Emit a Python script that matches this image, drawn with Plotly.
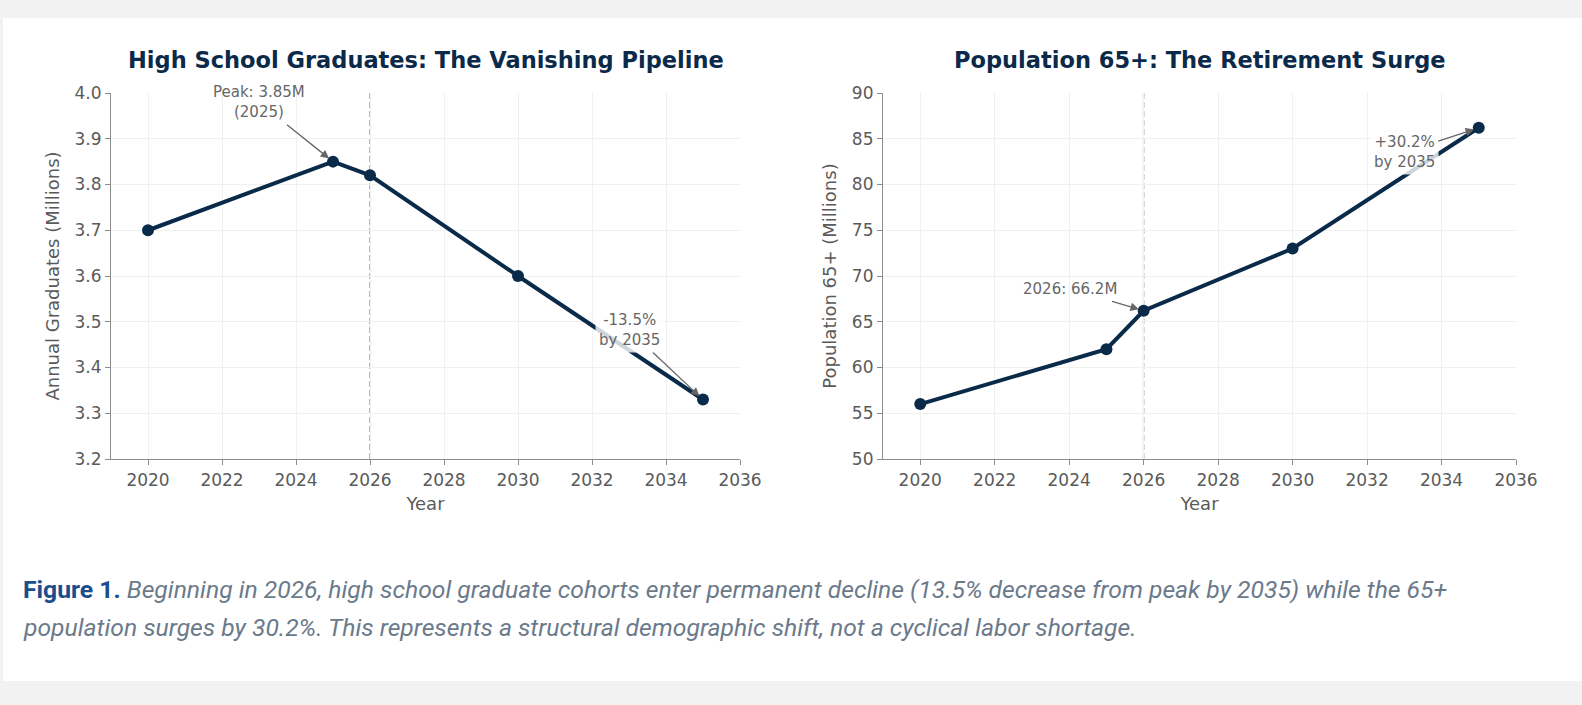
import plotly.graph_objects as go

W, H = 1582, 705

# ---- data ----
years = [2020, 2025, 2026, 2030, 2035]
grads = [3.70, 3.85, 3.82, 3.60, 3.33]
pop65 = [56.0, 62.0, 66.2, 73.0, 86.2]
x_ticks = [2020, 2022, 2024, 2026, 2028, 2030, 2032, 2034, 2036]
grad_ticks = [3.2, 3.3, 3.4, 3.5, 3.6, 3.7, 3.8, 3.9, 4.0]
pop_ticks = [50, 55, 60, 65, 70, 75, 80, 85, 90]
titles = ["High School Graduates: The Vanishing Pipeline",
          "Population 65+: The Retirement Surge"]
ylabels = ["Annual Graduates (Millions)", "Population 65+ (Millions)"]
caption1_bold = "Figure 1."
caption1 = ("Beginning in 2026, high school graduate cohorts enter permanent decline "
            "(13.5% decrease from peak by 2035) while the 65+")
caption2 = "population surges by 30.2%. This represents a structural demographic shift, not a cyclical labor shortage."

def px(x):
    return x / W

def py(y):
    return 1 - y / H

NAVY = "#0a2a4a"
SPINE = "#8c8c8c"
TICKC = "#5a5a5a"
GRID = "#f0f0f0"
ANN = "#666666"
FONT = "DejaVu Sans"

fig = go.Figure()

fig.add_trace(go.Scatter(x=years, y=grads, mode="lines+markers",
                         line=dict(color=NAVY, width=4),
                         marker=dict(color=NAVY, size=12),
                         xaxis="x", yaxis="y", showlegend=False))
fig.add_trace(go.Scatter(x=years, y=pop65, mode="lines+markers",
                         line=dict(color=NAVY, width=4),
                         marker=dict(color=NAVY, size=12),
                         xaxis="x2", yaxis="y2", showlegend=False))

ax_common = dict(showline=True, linecolor=SPINE, linewidth=1.2,
                 ticks="outside", ticklen=5, tickwidth=1.2, tickcolor=SPINE,
                 tickfont=dict(family=FONT, size=17, color=TICKC),
                 showgrid=True, gridcolor=GRID, gridwidth=1,
                 zeroline=False, mirror=False, automargin=False)

title_font = dict(family=FONT, size=18, color=TICKC)

fig.update_layout(
    width=W, height=H,
    margin=dict(l=0, r=0, t=0, b=0, pad=0, autoexpand=False),
    paper_bgcolor="#f2f2f2",
    plot_bgcolor="rgba(0,0,0,0)",
    xaxis=dict(domain=[px(111), px(740)], range=[2019, 2036],
               tickvals=x_ticks, anchor="y",
               title=dict(text="Year", standoff=8, font=title_font),
               **ax_common),
    yaxis=dict(domain=[py(459), py(93)], range=[3.2, 4.0],
               tickvals=grad_ticks, tickformat=".1f", anchor="x",
               title=dict(text=ylabels[0], standoff=10, font=title_font),
               **ax_common),
    xaxis2=dict(domain=[px(883), px(1516)], range=[2019, 2036],
                tickvals=x_ticks, anchor="y2",
                title=dict(text="Year", standoff=8, font=title_font),
                **ax_common),
    yaxis2=dict(domain=[py(459), py(93)], range=[50, 90],
                tickvals=pop_ticks, anchor="x2",
                title=dict(text=ylabels[1], standoff=10, font=title_font),
                **ax_common),
)

# white card
fig.add_shape(type="rect", xref="paper", yref="paper",
              x0=px(3), x1=1.0, y0=py(681), y1=py(18),
              fillcolor="white", line=dict(width=0), layer="below")

# vertical dashed 2026 lines
for xr, yr in (("x", "y domain"), ("x2", "y2 domain")):
    fig.add_shape(type="line", xref=xr, yref=yr, x0=2026, x1=2026, y0=0, y1=1,
                  line=dict(color="#a8a8a8", width=1.6, dash="6px,3px"), layer="below")

# subplot titles
for t, cx in zip(titles, [px(425.5), px(1199.5)]):
    fig.add_annotation(text=f"<b>{t}</b>", x=cx, y=py(60), xref="paper", yref="paper",
                       xanchor="center", yanchor="middle", showarrow=False,
                       font=dict(family=FONT, size=22.5, color="#0b2a4a"))

def arrow_ann(text, x, y, tx, ty, xr, yr, bg=False):
    fig.add_annotation(text=text, x=x, y=y, ax=tx, ay=ty, xref=xr, yref=yr,
                       axref=xr, ayref=yr, showarrow=True,
                       arrowhead=2, arrowsize=1.3, arrowwidth=1.3, arrowcolor=ANN,
                       standoff=5,
                       font=dict(family=FONT, size=15, color=ANN),
                       bgcolor="rgba(255,255,255,0.8)" if bg else "rgba(0,0,0,0)",
                       borderpad=3, align="center")

arrow_ann("Peak: 3.85M<br>(2025)", years[1], grads[1], 2023.0, 3.98, "x", "y")
arrow_ann("-13.5%<br>by 2035", years[4], grads[4], 2033.0, 3.482, "x", "y", bg=True)
arrow_ann("2026: 66.2M", years[2], pop65[2], 2024.03, 68.6, "x2", "y2")
arrow_ann("+30.2%<br>by 2035", years[4], pop65[4], 2033.0, 83.5, "x2", "y2", bg=True)

# caption
fig.add_annotation(
    text=(f"<b><span style='color:#1a4d8c'>{caption1_bold}</span></b> "
          f"<i><span style='color:#6b7a8b'>{caption1}</span></i>"),
    x=px(21), y=py(589), xref="paper", yref="paper", xanchor="left", yanchor="middle",
    showarrow=False, font=dict(family="Roboto", size=24.7, color="#6b7a8b"), align="left")
fig.add_annotation(
    text=f"<i>{caption2}</i>",
    x=px(21), y=py(627), xref="paper", yref="paper", xanchor="left", yanchor="middle",
    showarrow=False, font=dict(family="Roboto", size=24.7, color="#6b7a8b"), align="left")

fig.write_html("out.html", config={"displayModeBar": False},
               post_script="document.body.style.margin='0';document.body.style.background='#f2f2f2';")
